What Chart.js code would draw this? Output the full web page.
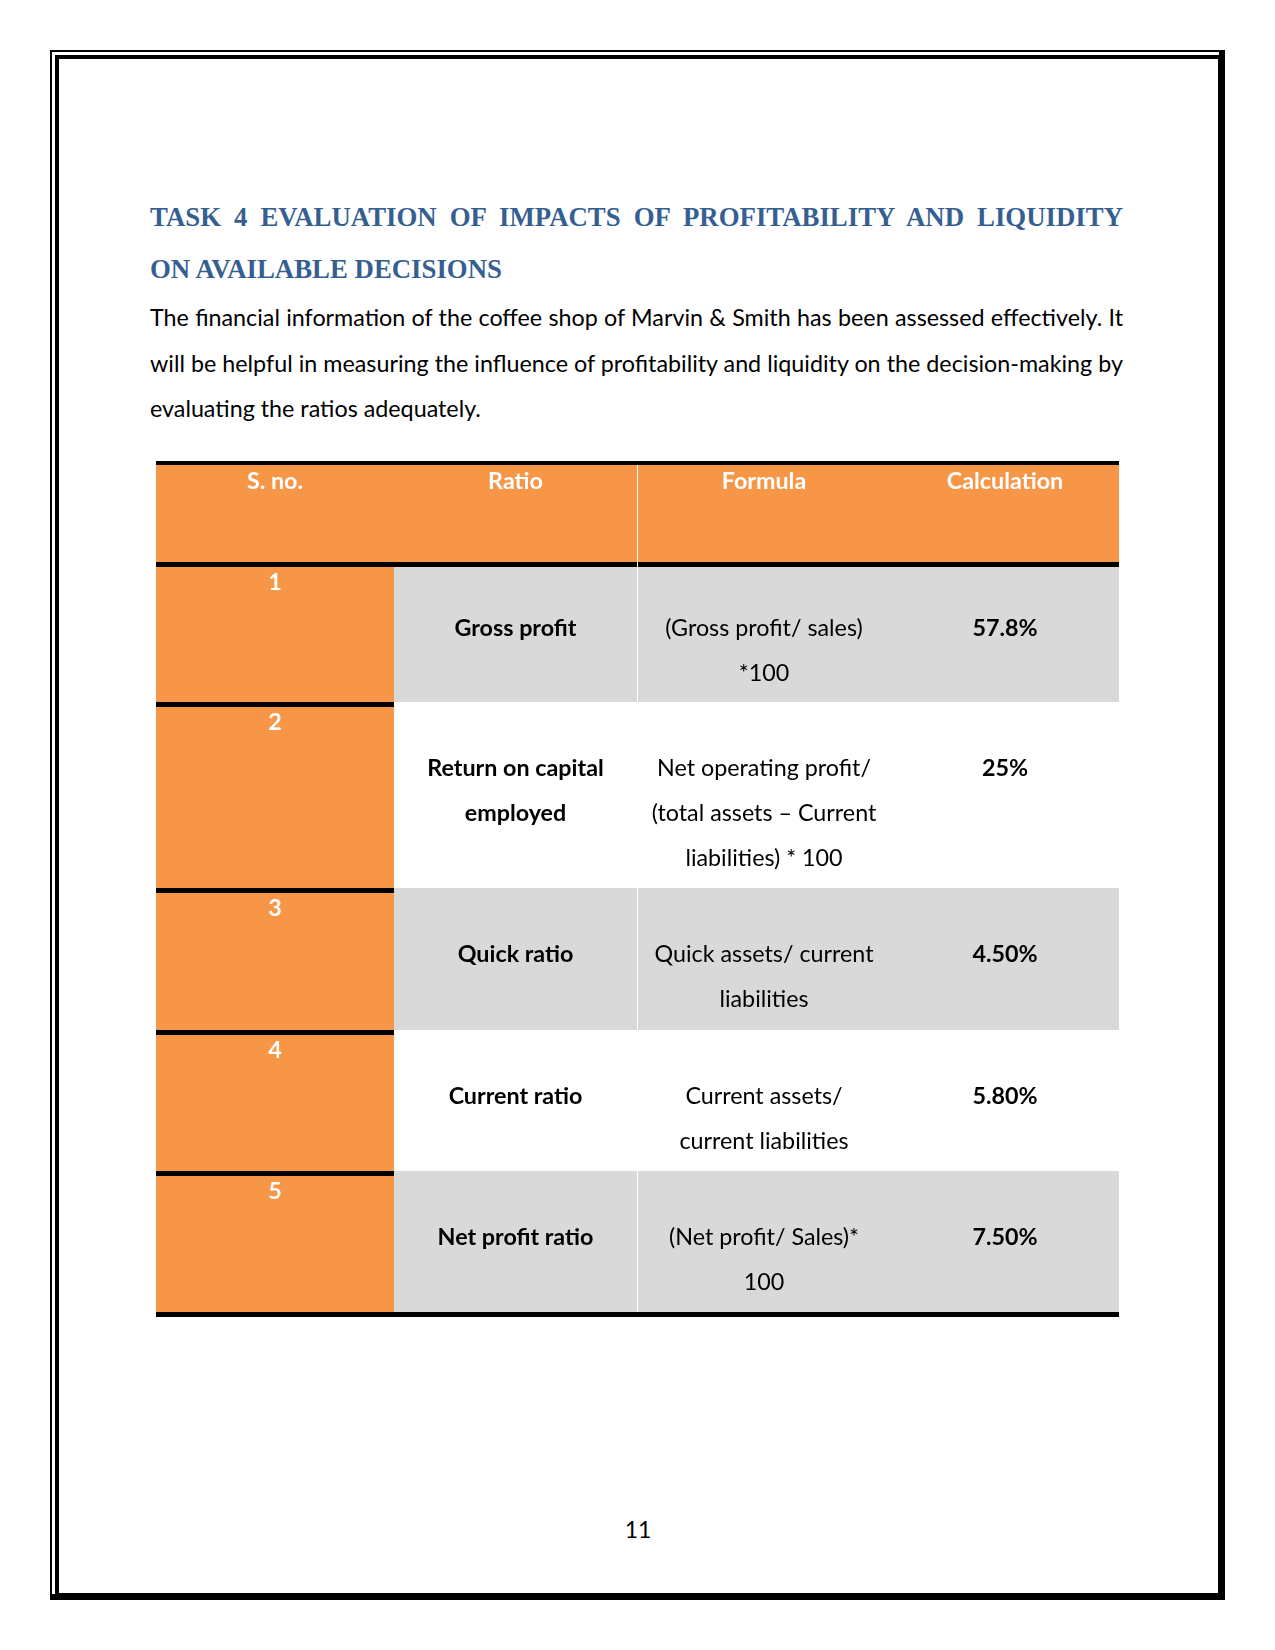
<!DOCTYPE html>
<html>
<head>
<meta charset="utf-8">
<script src="https://cdn.jsdelivr.net/npm/chart.js@4.4.1/dist/chart.umd.min.js"></script>
<style>
  body { margin: 0; width: 1275px; height: 1650px; position: relative; background: #fff; font-family: Lato, "Noto Sans", sans-serif; }
  .frame-outer { position: absolute; left: 50px; top: 50px; width: 1167px; height: 1542px; border-style: solid; border-color: #000; border-width: 2px 6px 6px 2px; }
  .frame-inner { position: absolute; left: 55px; top: 55px; width: 1159px; height: 1534px; border-style: solid; border-color: #000; border-width: 4px 2px 2px 4px; }
  .title { position: absolute; left: 150px; width: 973px; font-family: "Liberation Serif", serif; font-weight: bold; font-size: 26.8px; line-height: 52px; color: #365f91; white-space: nowrap; }
  .title.justify { text-align: justify; text-align-last: justify; white-space: normal; }
  .para { position: absolute; left: 150px; top: 295px; width: 973px; font-size: 23.3px; line-height: 45.5px; color: #000; }
  .para div { white-space: nowrap; }
  .para .j { text-align: justify; text-align-last: justify; white-space: normal; }
  #tableBox { position: absolute; left: 156px; top: 461px; width: 963px; height: 856px; }
  .pageno { position: absolute; left: 600px; width: 76px; top: 1507px; text-align: center; font-size: 23px; line-height: 45px; }
</style>
</head>
<body>
<div class="frame-outer"></div>
<div class="frame-inner"></div>

<div class="title justify" style="top:191px">TASK 4 EVALUATION OF IMPACTS OF PROFITABILITY AND LIQUIDITY</div>
<div class="title" style="top:243px">ON AVAILABLE DECISIONS</div>

<div class="para">
  <div class="j">The financial information of the coffee shop of Marvin &amp; Smith has been assessed effectively. It</div>
  <div class="j">will be helpful in measuring the influence of profitability and liquidity on the decision-making by</div>
  <div>evaluating the ratios adequately.</div>
</div>

<div id="tableBox"><canvas id="ratioTable"></canvas></div>

<div class="pageno">11</div>

<script>
const headers = ["S. no.", "Ratio", "Formula", "Calculation"];
const serialNos = ["1", "2", "3", "4", "5"];
const ratioNames = [
  ["Gross profit"],
  ["Return on capital", "employed"],
  ["Quick ratio"],
  ["Current ratio"],
  ["Net profit ratio"],
];
const formulas = [
  ["(Gross profit/ sales)", "*100"],
  ["Net operating profit/", "(total assets \u2013 Current", "liabilities) * 100"],
  ["Quick assets/ current", "liabilities"],
  ["Current assets/", "current liabilities"],
  ["(Net profit/ Sales)*", "100"],
];
const calculations = ["57.8%", "25%", "4.50%", "5.80%", "7.50%"];

// table layout, in table units (one unit = one pixel of the box)
const colEdges = [0, 238, 481, 735, 963];
const headerTop = 4;
const headerBottom = 101;
const rowTops = [106, 241, 427, 569, 710];
const tableBottom = 851;
const rule = 5;
const ORANGE = "#f79646";
const GREY = "#d9d9d9";
const rowFills = [GREY, "#ffffff", GREY, "#ffffff", GREY];
const lineGap = 45;
const FONT_PX = 23.3;

const tablePlugin = {
  id: "ratioTable",
  beforeDatasetsDraw(chart) {
    const { ctx } = chart;
    const { x, y } = chart.scales;
    const px = (v) => x.getPixelForValue(v);
    const py = (v) => y.getPixelForValue(v);
    const box = (x0, y0, x1, y1, color) => {
      ctx.fillStyle = color;
      ctx.fillRect(px(x0), py(y0), px(x1) - px(x0), py(y1) - py(y0));
    };
    const text = (str, col, base, bold, color) => {
      ctx.font = (bold ? "bold " : "") + FONT_PX + "px Lato";
      ctx.fillStyle = color;
      ctx.textAlign = "center";
      ctx.textBaseline = "alphabetic";
      ctx.fillText(str, px((colEdges[col] + colEdges[col + 1]) / 2), py(base));
    };
    const right = colEdges[colEdges.length - 1];

    ctx.save();
    // header
    box(0, 0, right, headerTop, "#000");
    box(0, headerTop, right, headerBottom, ORANGE);
    box(0, headerBottom, right, rowTops[0], "#000");
    headers.forEach((h, c) => text(h, c, headerTop + 24, true, "#fff"));

    // body rows
    serialNos.forEach((no, i) => {
      const top = rowTops[i];
      const bottom = i + 1 < rowTops.length ? rowTops[i + 1] : tableBottom;
      box(colEdges[1], top, right, bottom, rowFills[i]);
      const numTop = i === 0 ? top : top + rule;
      if (i > 0) box(0, top, colEdges[1], numTop, "#000");
      box(0, numTop, colEdges[1], bottom, ORANGE);
      text(no, 0, numTop + 23, true, "#fff");
      const first = numTop + 69;
      ratioNames[i].forEach((s, k) => text(s, 1, first + k * lineGap, true, "#000"));
      formulas[i].forEach((s, k) => text(s, 2, first + k * lineGap, false, "#000"));
      text(calculations[i], 3, first, true, "#000");
    });

    // thin white divider between Ratio and Formula
    box(colEdges[2], headerTop, colEdges[2] + 1, tableBottom, "#fff");
    box(0, tableBottom, right, tableBottom + rule, "#000");
    ctx.restore();
  },
};

function draw() {
  new Chart(document.getElementById("ratioTable"), {
    type: "scatter",
    data: { datasets: [] },
    options: {
      responsive: true,
      maintainAspectRatio: false,
      animation: false,
      layout: { padding: 0 },
      scales: {
        x: { type: "linear", min: 0, max: colEdges[colEdges.length - 1], display: false },
        y: { type: "linear", min: 0, max: tableBottom + rule, reverse: true, display: false },
      },
      plugins: { legend: { display: false }, tooltip: { enabled: false } },
    },
    plugins: [tablePlugin],
  });
}

document.fonts.ready.then(draw);
</script>
</body>
</html>
